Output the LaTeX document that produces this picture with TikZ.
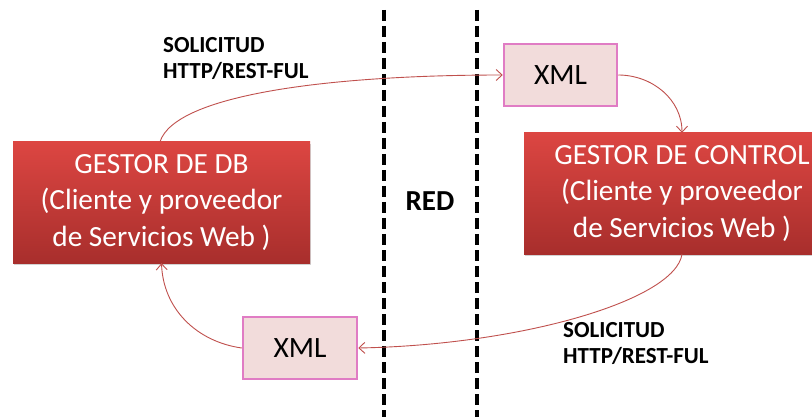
\documentclass[tikz,border=0pt]{standalone}
\usepackage{fontspec}
\setmainfont{Carlito}
\usetikzlibrary{arrows.meta,shadows}
\definecolor{arrowred}{RGB}{192,80,77}
\definecolor{xmlfill}{RGB}{242,220,219}
\definecolor{xmlborder}{RGB}{224,124,196}
\definecolor{boxtop}{RGB}{220,70,66}
\definecolor{boxbot}{RGB}{168,46,44}
\begin{document}
\begin{tikzpicture}[x=1pt,y=1pt,
  gestor/.style={rectangle, top color=boxtop, bottom color=boxbot, draw=none, text=white,
    font=\fontsize{29.3}{36.5}\selectfont, align=center, inner sep=0pt,
    drop shadow={opacity=0.35,shadow xshift=1pt,shadow yshift=-2pt}},
  xmlbox/.style={rectangle, fill=xmlfill, draw=xmlborder, line width=2.5pt,
    font=\fontsize{29.5}{34}\selectfont, inner sep=0pt},
  flow/.style={draw=arrowred, line width=0.9pt, -{Straight Barb[length=6pt,width=11pt]}},
  netline/.style={line width=4pt, dash pattern=on 11pt off 5pt},
  lbl/.style={font=\fontsize{23}{26.5}\selectfont\bfseries, align=left, inner sep=0pt, anchor=north west}
]
\useasboundingbox (0,0) rectangle (812,-417);
\clip (0,0) rectangle (812,-417);
\fill[white] (0,0) rectangle (812,-417);

% network boundaries
\coordinate (n1t) at (384,-10);
\coordinate (n1b) at (384,-417);
\coordinate (n2t) at (477,-10);
\coordinate (n2b) at (477,-417);
\draw[netline] (n1t) -- (n1b);
\draw[netline] (n2t) -- (n2b);

% main boxes
\node[gestor, minimum width=297pt, minimum height=121pt] (db) at (161.5,-202.5)
  {GESTOR DE DB\\(Cliente y proveedor\\de Servicios Web )};
\node[gestor, minimum width=316pt, minimum height=121pt] (ctl) at (682,-193.5)
  {GESTOR DE CONTROL\\(Cliente y proveedor\\de Servicios Web )};

% xml boxes
\node[xmlbox, minimum width=113pt, minimum height=62pt] (x1) at (560.5,-75) {XML};
\node[xmlbox, minimum width=114pt, minimum height=62pt] (x2) at (300,-348) {XML};

% labels
\node[lbl] (l1) at (163,-37) {SOLICITUD\\HTTP/REST-FUL};
\node[lbl] (l2) at (563,-322) {SOLICITUD\\HTTP/REST-FUL};
\node[font=\fontsize{29}{32}\selectfont\bfseries] (red) at (430,-201.5) {RED};

% connectors
\draw[flow] ([xshift=-1.5pt]db.north) .. controls +(15,47) and +(-174,0) .. (x1.west);
\draw[flow] (x1.east) to[out=0,in=90] (ctl.north);
\draw[flow] (ctl.south) .. controls +(-7,-46) and +(163,3) .. (x2.east);
\draw[flow] (x2.west) to[out=172,in=-88] (db.south);
\end{tikzpicture}
\end{document}
